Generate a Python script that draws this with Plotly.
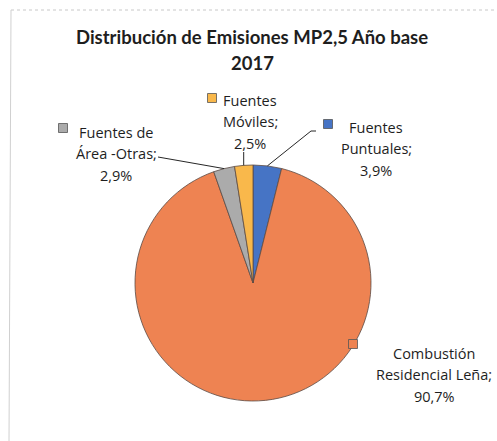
import numpy as np
import plotly.graph_objects as go

# slices, clockwise from 12 o'clock
categories = ["Fuentes Puntuales", "Combustión Residencial Leña",
              "Fuentes de Área -Otras", "Fuentes Móviles"]
values = [3.9, 90.7, 2.9, 2.5]
label_lines = [["Fuentes", "Puntuales;"],
               ["Combustión", "Residencial Leña;"],
               ["Fuentes de", "Área -Otras;"],
               ["Fuentes", "Móviles;"]]
colors = ["#4674C5", "#EE8352", "#ABABAB", "#F9B84B"]

W, H = 497, 441
cx, cy, R = 253, 283, 118

# label block placement (pixels): first-line centre, key square centre
label_pos = [(376, 127), (434, 353), (116, 132), (250, 100)]
key_pos = [(328, 124), (353, 344), (63, 128), (212, 98)]
line_gap = 21.5
font = "Open Sans"

fig = go.Figure()

fig.add_trace(go.Pie(
    labels=categories,
    values=values,
    sort=False,
    direction="clockwise",
    rotation=0,
    textinfo="none",
    marker=dict(colors=colors, line=dict(color="#5a4a44", width=0.8)),
    domain=dict(x=[(cx - R) / W, (cx + R) / W],
                y=[(H - cy - R) / H, (H - cy + R) / H]),
    showlegend=False,
    hoverinfo="label+percent",
))

# hidden pixel-space axes for labels and leader lines
fig.add_trace(go.Scatter(x=[0, W], y=[0, H], mode="markers",
                         marker=dict(opacity=0), hoverinfo="skip", showlegend=False))

annotations = []
shapes = []

# title
for i, t in enumerate(["Distribución de Emisiones MP2,5 Año base", "2017"]):
    annotations.append(dict(x=252, y=37 + i * 26, xref="x", yref="y", text=t, showarrow=False,
                            font=dict(family="Lato", size=18.5, color="#1e1e1e", weight="bold")))

total = sum(values)
start = 0.0
for k, v in enumerate(values):
    pct = f"{v:.1f}".replace(".", ",") + "%"
    lines = label_lines[k] + [pct]
    lx, ly = label_pos[k]
    for i, t in enumerate(lines):
        annotations.append(dict(x=lx, y=ly + i * line_gap, xref="x", yref="y", text=t,
                                showarrow=False, font=dict(family=font, size=14.5, color="#1e1e1e")))
    kx, ky = key_pos[k]
    shapes.append(dict(type="rect", xref="x", yref="y", x0=kx - 4.5, x1=kx + 4.5,
                       y0=ky - 4.5, y1=ky + 4.5, fillcolor=colors[k],
                       line=dict(color="#555555", width=0.8)))
    # slice mid-angle point on the rim
    mid = (start + v / 2) / total * 2 * np.pi
    ex, ey = cx + R * np.sin(mid), cy - R * np.cos(mid)
    start += v
    if k == 0:
        path = f"M {ex:.1f},{ey:.1f} L 311,131 L 316,131"
    elif k == 2:
        path = f"M {ex:.1f},{ey:.1f} L 158,157"
    elif k == 3:
        path = f"M {ex:.1f},{ey:.1f} L {ex:.1f},152"
    else:
        continue
    shapes.append(dict(type="path", xref="x", yref="y", path=path,
                       line=dict(color="#262626", width=1)))

# partial frame of the original chart area
shapes.append(dict(type="line", xref="x", yref="y", x0=11, x1=W, y0=10, y1=10,
                   line=dict(color="#c8c8c8", width=1, dash="dot")))
shapes.append(dict(type="line", xref="x", yref="y", x0=11, x1=9, y0=10, y1=H,
                   line=dict(color="#d0d0d0", width=1)))

fig.update_layout(
    width=W, height=H,
    margin=dict(l=0, r=0, t=0, b=0),
    paper_bgcolor="white", plot_bgcolor="rgba(0,0,0,0)",
    xaxis=dict(range=[0, W], visible=False, fixedrange=True),
    yaxis=dict(range=[H, 0], visible=False, fixedrange=True),
    annotations=annotations,
    shapes=shapes,
)

fig.write_html("out.html", config={"displayModeBar": False},
               post_script="document.body.style.margin='0px';")
